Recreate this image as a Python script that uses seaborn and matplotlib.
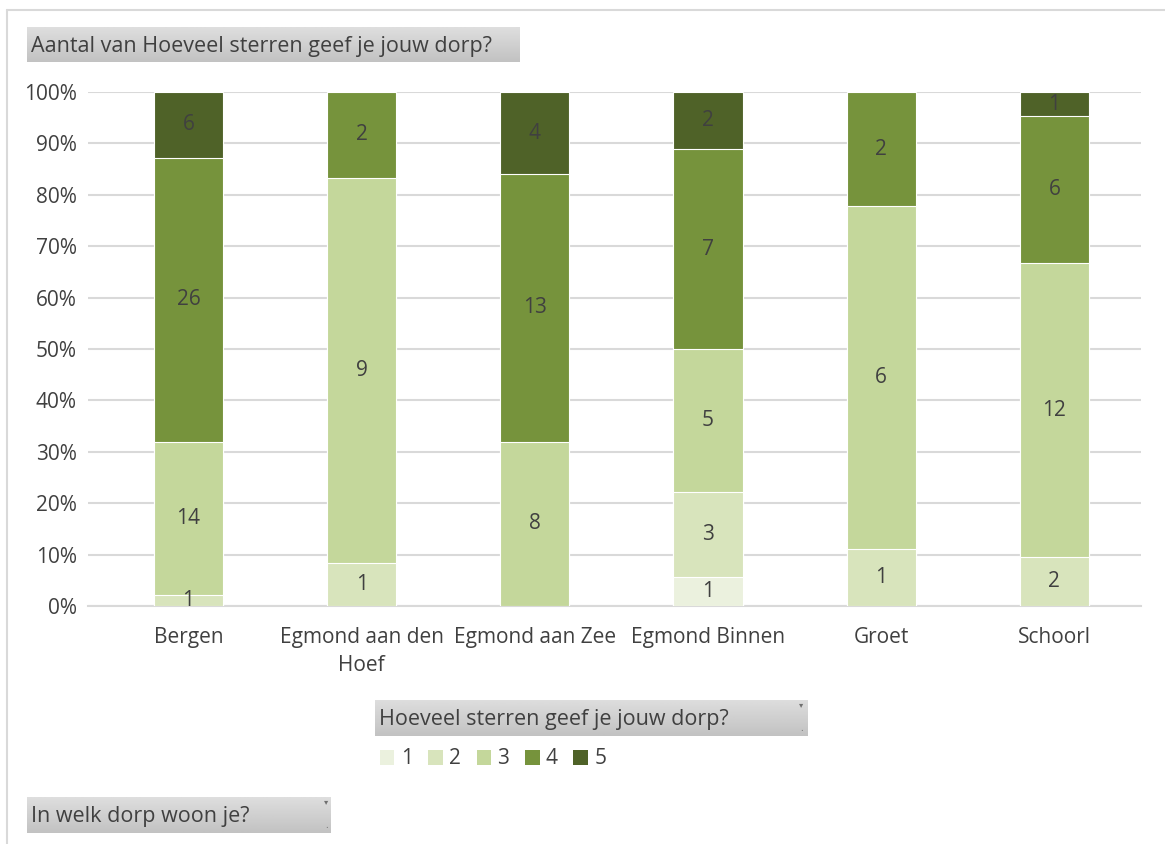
import numpy as np
import pandas as pd
import seaborn as sns
import matplotlib.pyplot as plt
from matplotlib.patches import Patch
from matplotlib.lines import Line2D

# Data (counts per village per star rating)
dorpen = ['Bergen', 'Egmond aan den\nHoef', 'Egmond aan Zee', 'Egmond Binnen', 'Groet', 'Schoorl']
sterren = ['1', '2', '3', '4', '5']
ster_1 = [0, 0, 0, 1, 0, 0]
ster_2 = [1, 1, 0, 3, 1, 2]
ster_3 = [14, 9, 8, 5, 6, 12]
ster_4 = [26, 2, 13, 7, 2, 6]
ster_5 = [6, 0, 4, 2, 0, 1]
kleuren = ['#ebf1de', '#d8e4bc', '#c4d79b', '#76933c', '#4f6228']

counts = np.array([ster_1, ster_2, ster_3, ster_4, ster_5], dtype=float)
pct = counts / counts.sum(axis=0) * 100
cum = np.cumsum(pct, axis=0)

sns.set_theme(style='white')
plt.rcParams['font.family'] = ['Open Sans', 'DejaVu Sans']
text_col = '#404040'
grid_col = '#d9d9d9'
fs = 15

fig = plt.figure(figsize=(11.65, 8.44), dpi=100)
W, H = 1165, 844
ax = fig.add_axes([88 / W, 1 - 606 / H, (1141 - 88) / W, (606 - 92) / H])

# stacked bars: draw cumulative totals from the top level down
for i in range(4, -1, -1):
    hoogte = np.where(cum[i] > 0, cum[i], np.nan)
    df = pd.DataFrame({'dorp': dorpen, 'pct': hoogte})
    sns.barplot(data=df, x='dorp', y='pct', color=kleuren[i], width=0.4,
                edgecolor='white', linewidth=0.8, saturation=1, ax=ax, zorder=3)

# data labels
for j in range(len(dorpen)):
    for i in range(5):
        if counts[i, j] > 0:
            mid = cum[i, j] - pct[i, j] / 2
            ax.text(j, mid, f'{int(counts[i, j])}', ha='center', va='center',
                    fontsize=fs, color=text_col, zorder=5)

ax.set_ylim(0, 100)
ax.set_xlim(-0.58, len(dorpen) - 0.5)
ax.set_yticks(np.arange(0, 101, 10))
ax.set_yticklabels([f'{v}%' for v in range(0, 101, 10)])
ax.yaxis.grid(True, color=grid_col, linewidth=1.5, zorder=0)
ax.set_axisbelow(True)
ax.set_xlabel('')
ax.set_ylabel('')
ax.tick_params(axis='both', length=0, labelsize=fs, labelcolor=text_col)
ax.tick_params(axis='y', pad=8)
ax.tick_params(axis='x', pad=15)
for lbl in ax.get_xticklabels():
    lbl.set_linespacing(1.45)
for s in ['top', 'right', 'left']:
    ax.spines[s].set_visible(False)
ax.spines['bottom'].set_color(grid_col)
ax.spines['bottom'].set_linewidth(1.5)


# gray field buttons like in the Excel pivot chart
def field_button(x0, y0, x1, y1, label, arrow=False):
    bax = fig.add_axes([x0 / W, 1 - y1 / H, (x1 - x0) / W, (y1 - y0) / H])
    grad = np.linspace(0.87, 0.76, 50).reshape(-1, 1)
    bax.imshow(grad, aspect='auto', cmap='gray', vmin=0, vmax=1,
               extent=[0, 1, 0, 1])
    bax.set_xlim(0, 1)
    bax.set_ylim(0, 1)
    bax.axis('off')
    bax.text(4 / (x1 - x0), 0.45, label, ha='left', va='center', fontsize=15.5,
             color='#404040', transform=bax.transAxes)
    if arrow:
        bax.text(0.985, 0.85, '▾', ha='center', va='center', fontsize=6,
                 color='#707070', transform=bax.transAxes)
        bax.text(0.985, 0.2, '.', ha='center', va='center', fontsize=7,
                 color='#707070', transform=bax.transAxes)


field_button(27, 27, 520, 62, 'Aantal van Hoeveel sterren geef je jouw dorp?')
field_button(375, 700, 808, 736, 'Hoeveel sterren geef je jouw dorp?', arrow=True)
field_button(27, 797, 331, 833, 'In welk dorp woon je?', arrow=True)

# legend
handles = [Patch(facecolor=c, edgecolor='none') for c in kleuren]
fig.legend(handles, sterren, loc='center', bbox_to_anchor=(493 / W, 1 - 759 / H),
           ncol=5, frameon=False, fontsize=fs, handlelength=0.7, handleheight=0.7,
           handletextpad=0.3, columnspacing=0.75, labelcolor=text_col)

# chart border
fig.add_artist(Line2D([7 / W, 1], [1 - 10 / H, 1 - 10 / H], color=grid_col, lw=1.5))
fig.add_artist(Line2D([7 / W, 7 / W], [0, 1 - 10 / H], color=grid_col, lw=1.5))

fig.savefig('out.png', dpi=100)
